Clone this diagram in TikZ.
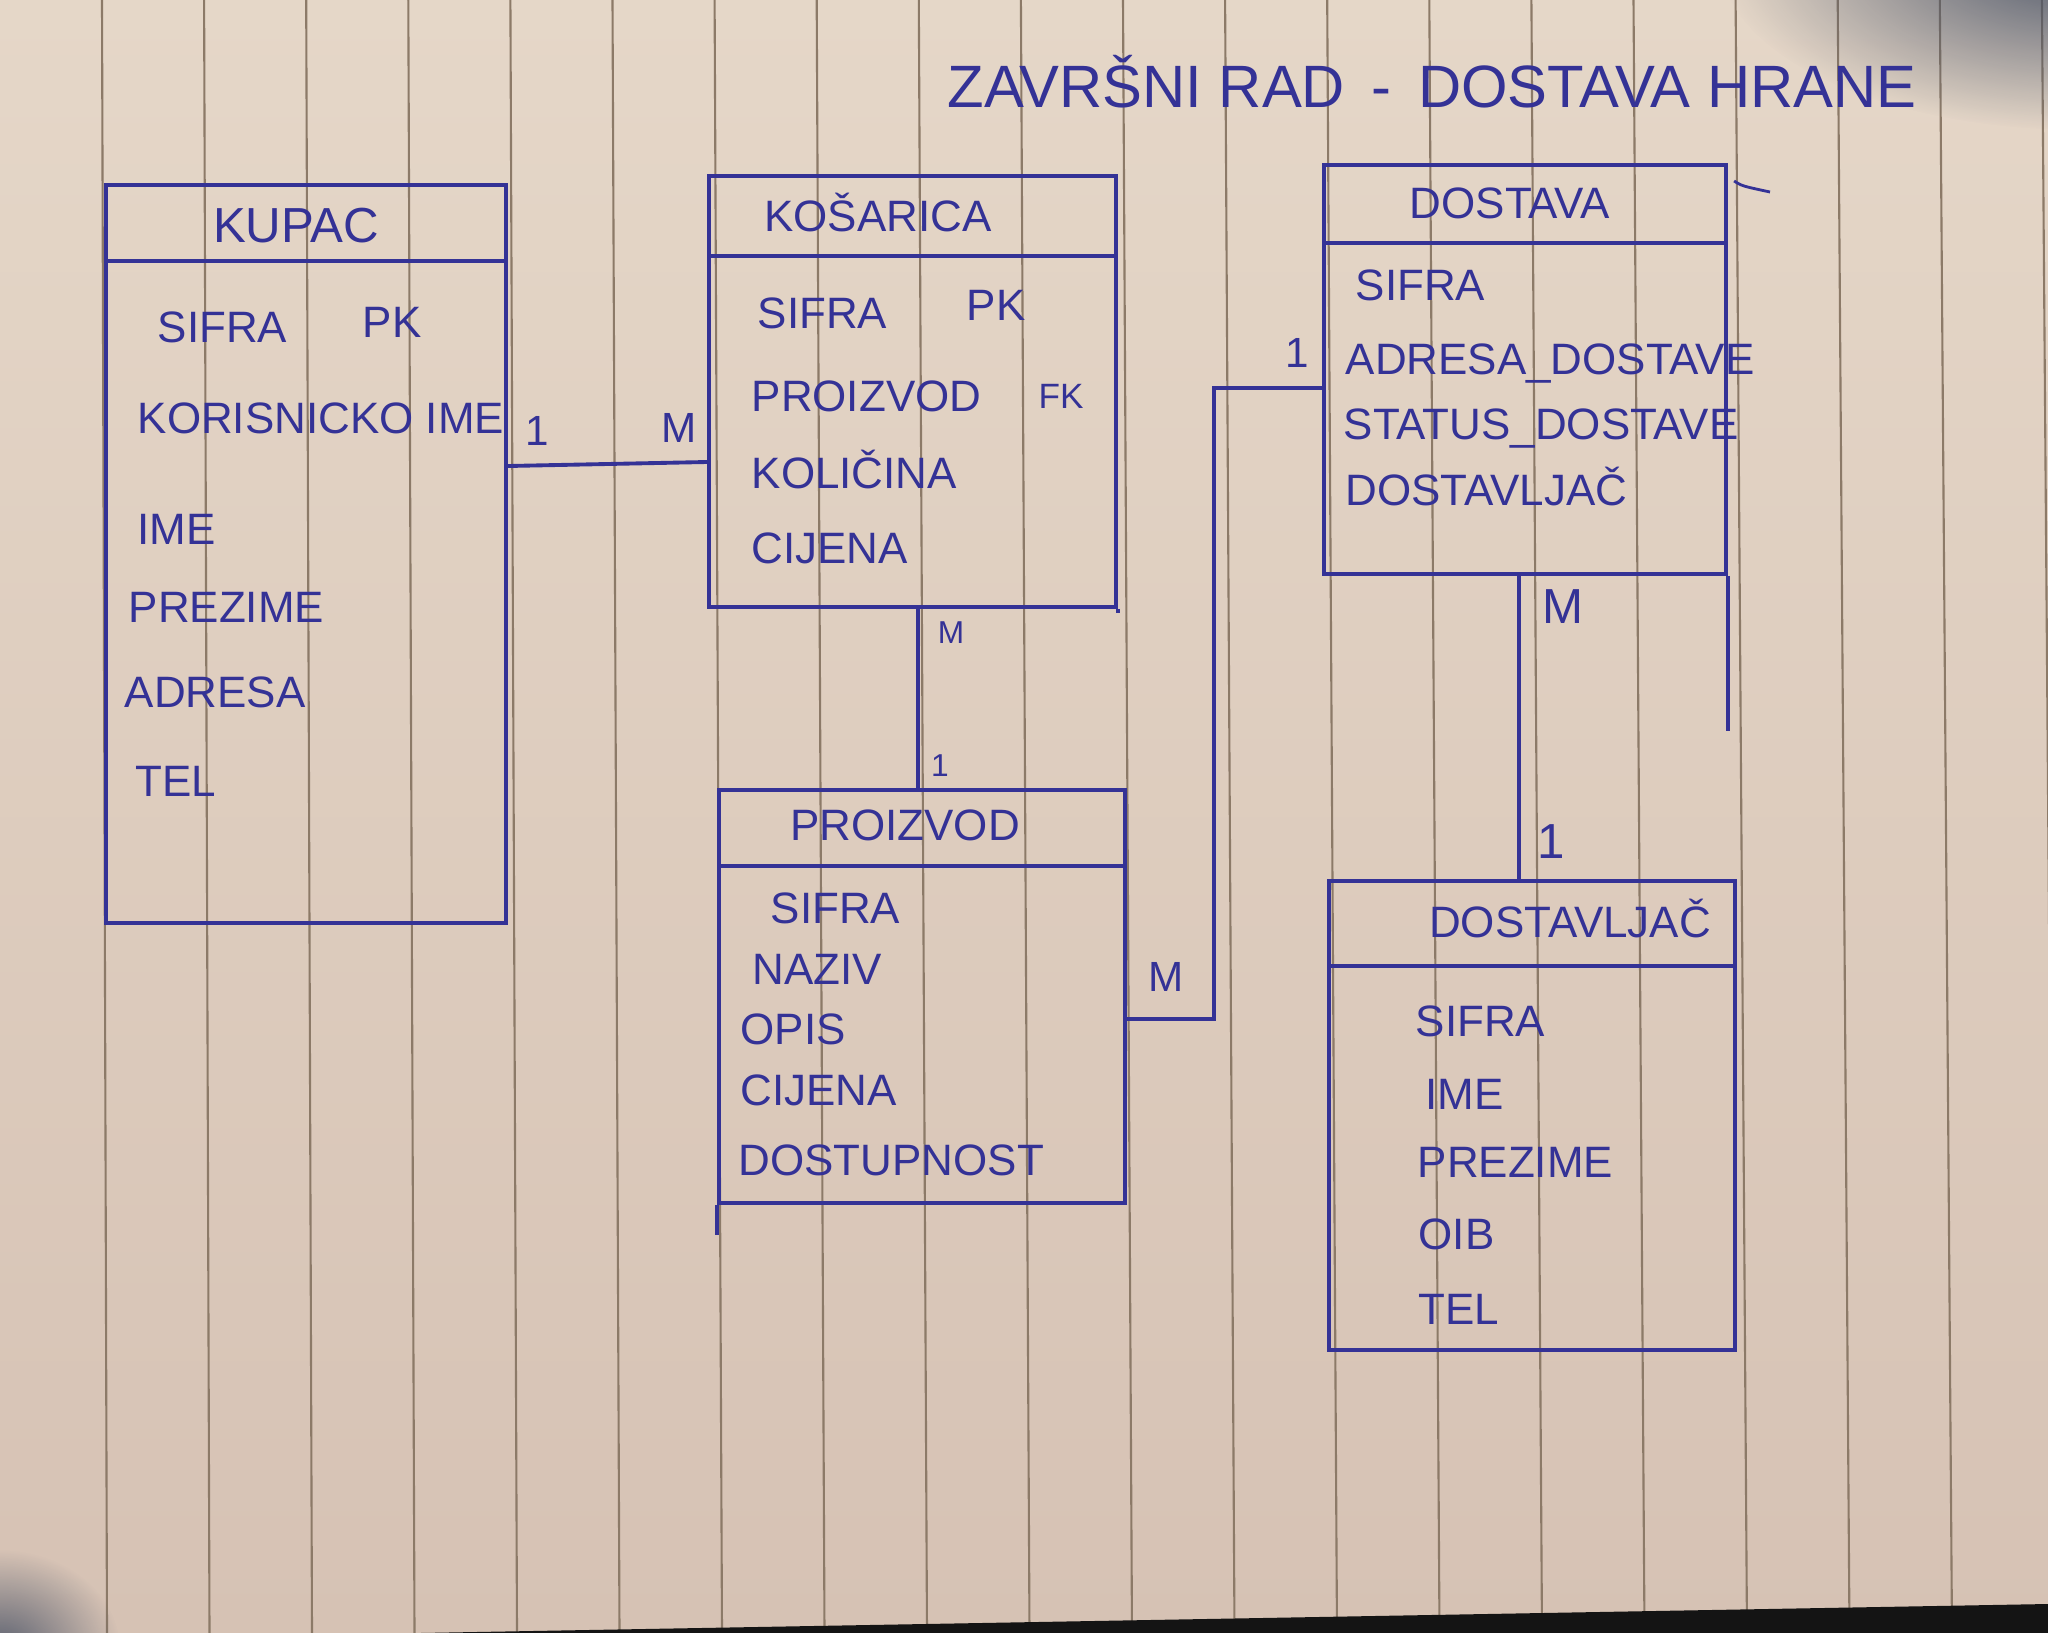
\documentclass[tikz,border=0pt]{standalone}
\usepackage{fontspec}
\setmainfont{Liberation Sans}
\usetikzlibrary{fadings}
\tikzfading[name=softblob, inner color=transparent!0, outer color=transparent!100]
\definecolor{paper}{RGB}{229,215,200}
\definecolor{paperlo}{RGB}{214,194,180}
\definecolor{rule}{RGB}{140,122,104}
\definecolor{ink}{RGB}{52,50,150}
\definecolor{shadowc}{RGB}{70,80,100}
\tikzset{
  ent/.style={draw=ink, line width=1.1pt, rectangle, inner sep=0pt, anchor=north west},
  inkline/.style={draw=ink, line width=1.1pt},
  attr/.style={text=ink, font=\fontsize{12.5}{14}\selectfont, anchor=west, inner sep=0pt, text height=9pt, text depth=0pt},
  ttl/.style={text=ink, font=\fontsize{12.5}{14}\selectfont, inner sep=0pt, text height=9pt, text depth=0pt},
  card/.style={text=ink, font=\fontsize{12}{14}\selectfont, inner sep=0pt},
  smallcard/.style={text=ink, font=\fontsize{9}{11}\selectfont, inner sep=0pt},
  heading/.style={text=ink, font=\fontsize{17}{20}\selectfont, inner sep=0pt}
}
\begin{document}
\begin{tikzpicture}[x=0.01cm,y=-0.01cm]
\useasboundingbox (0,0) rectangle (2048,1633);
% paper
\shade[top color=paper, bottom color=paperlo] (0,0) rectangle (2048,1633);
\foreach \i in {0,...,19} {
  \draw[rule, line width=0.6pt] ({102+102.1*\i},0) -- ({107+102.5*\i},1633);
}
% shadows
\fill[shadowc, opacity=0.95, path fading=softblob] (2080,-40) ellipse [x radius=360, y radius=170];
\fill[shadowc, opacity=0.85, path fading=softblob] (0,1650) ellipse [x radius=120, y radius=100];
\fill[black!92] (420,1633) -- (2048,1604) -- (2048,1633) -- cycle;

% heading
\node[heading, anchor=west] (heading) at (947,82) {ZAVRŠNI RAD \,-\, DOSTAVA HRANE};

% entity boxes
\node[ent, minimum width=4.00cm, minimum height=7.38cm] (kupac) at (104,183) {};
\node[ent, minimum width=4.07cm, minimum height=4.31cm] (kosarica) at (707,174) {};
\node[ent, minimum width=4.02cm, minimum height=4.09cm] (dostava) at (1322,163) {};
\node[ent, minimum width=4.06cm, minimum height=4.13cm] (proizvod) at (717,788) {};
\node[ent, minimum width=4.06cm, minimum height=4.69cm] (dostavljac) at (1327,879) {};

% header separators
\draw[inkline] (kupac.west |- 0,261) -- (kupac.east |- 0,261);
\draw[inkline] (kosarica.west |- 0,256) -- (kosarica.east |- 0,256);
\draw[inkline] (dostava.west |- 0,243) -- (dostava.east |- 0,243);
\draw[inkline] (proizvod.west |- 0,866) -- (proizvod.east |- 0,866);
\draw[inkline] (dostavljac.west |- 0,966) -- (dostavljac.east |- 0,966);

% overshooting strokes
\draw[inkline] (dostava.south east) -- (dostava.east |- 0,731);
\draw[inkline] (proizvod.south west) -- (proizvod.west |- 0,1235);
\draw[inkline] (kosarica.south east) -- (kosarica.east |- 0,613);
\draw[draw=ink, line width=0.8pt] (dostava.north east) ++(6,18) coordinate (sk) .. controls (1742,186) .. (1770,192);

% titles
\node[ttl, font=\fontsize{14}{16}\selectfont] (tkupac) at (296,227) {KUPAC};
\node[ttl] (tkosarica) at (878,216) {KOŠARICA};
\node[ttl] (tdostava) at (1510,203) {DOSTAVA};
\node[ttl] (tproizvod) at (905,825) {PROIZVOD};
\node[ttl] (tdostavljac) at (1570,922) {DOSTAVLJAČ};

% KUPAC attributes
\node[attr] (k1) at (157,327) {SIFRA};
\node[attr] (k1pk) at (362,322) {PK};
\node[attr] (k2) at (137,418) {KORISNICKO IME};
\node[attr] (k3) at (137,529) {IME};
\node[attr] (k4) at (128,607) {PREZIME};
\node[attr] (k5) at (124,692) {ADRESA};
\node[attr] (k6) at (135,781) {TEL};

% KOSARICA attributes
\node[attr] (c1) at (757,313) {SIFRA};
\node[attr] (c1pk) at (966,305) {PK};
\node[attr] (c2) at (751,396) {PROIZVOD};
\node[attr, font=\fontsize{10}{12}\selectfont, text height=7pt] (c2fk) at (1038,396) {FK};
\node[attr] (c3) at (751,473) {KOLIČINA};
\node[attr] (c4) at (751,548) {CIJENA};

% DOSTAVA attributes
\node[attr] (d1) at (1355,285) {SIFRA};
\node[attr] (d2) at (1345,359) {ADRESA\_DOSTAVE};
\node[attr] (d3) at (1343,424) {STATUS\_DOSTAVE};
\node[attr] (d4) at (1345,490) {DOSTAVLJAČ};

% PROIZVOD attributes
\node[attr] (p1) at (770,908) {SIFRA};
\node[attr] (p2) at (752,969) {NAZIV};
\node[attr] (p3) at (740,1029) {OPIS};
\node[attr] (p4) at (740,1090) {CIJENA};
\node[attr] (p5) at (738,1160) {DOSTUPNOST};

% DOSTAVLJAC attributes
\node[attr] (v1) at (1415,1021) {SIFRA};
\node[attr] (v2) at (1425,1094) {IME};
\node[attr] (v3) at (1417,1162) {PREZIME};
\node[attr] (v4) at (1418,1234) {OIB};
\node[attr] (v5) at (1418,1309) {TEL};

% connectors
\draw[inkline] (kupac.east |- 0,466) -- (kosarica.west |- 0,462);
\draw[inkline] (kosarica.south -| 918,0) -- (proizvod.north -| 918,0);
\draw[inkline] (proizvod.east |- 0,1019) -- (1214,1019) -- (1214,388) -- (dostava.west |- 0,388);
\draw[inkline] (dostava.south -| 1519,0) -- (dostavljac.north -| 1519,0);

% cardinalities
\node[card] (m1a) at (537,431) {1};
\node[card] (m1b) at (679,428) {M};
\node[smallcard] (m2a) at (951,633) {M};
\node[smallcard] (m2b) at (940,766) {1};
\node[card] (m3a) at (1166,977) {M};
\node[card] (m3b) at (1297,353) {1};
\node[card, font=\fontsize{14}{16}\selectfont] (m4a) at (1563,607) {M};
\node[card, font=\fontsize{14}{16}\selectfont] (m4b) at (1551,842) {1};
\end{tikzpicture}
\end{document}
